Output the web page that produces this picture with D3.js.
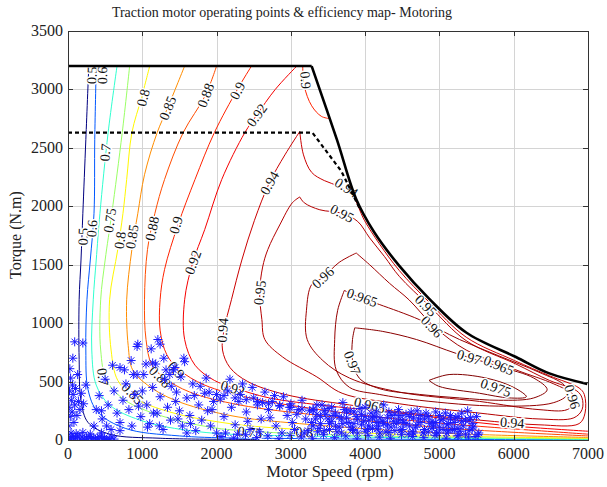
<!DOCTYPE html>
<html><head><meta charset="utf-8">
<script src="https://cdn.jsdelivr.net/npm/d3@7"></script>
<style>body{margin:0;background:#fff}svg{display:block}</style>
</head><body>
<svg id="chart" width="607" height="487"></svg>
<script>
// ---------- data ----------
const speedTicks = [0,1000,2000,3000,4000,5000,6000,7000];
const torqueTicks = [0,500,1000,1500,2000,2500,3000,3500];

// max torque envelope (solid) and continuous envelope (dashed)
const envelopeFlat = [[0,3200],[3280,3200]];
const envelopeMax = [[3280,3200],[3620,2570],[3880,2060],[4120,1780],[4460,1490],[4860,1210],[5360,920],[6030,710],[6480,570],[6990,480]];
const envelopeCont = [[0,2630],[3290,2630],[3680,2300],[3920,1990]];

// efficiency contour lines [speed rpm, torque N.m]
const c050 = [[280,3200],[240,2570],[200,1940],[175,1540],[150,1200],[150,690],[175,340],[270,150],[560,50],[1240,15],[2580,5]];
const c060 = [[380,3200],[360,2570],[350,1940],[300,1540],[255,1200],[240,770],[270,430],[400,240],[770,100],[1500,35],[3100,12],[7000,3]];
const c070 = [[660,3200],[540,2630],[430,1940],[380,1540],[340,1200],[320,770],[380,470],[560,300],[970,170],[1770,70],[3500,30],[7000,6]];
const c075 = [[830,3200],[730,2630],[590,1940],[500,1540],[440,1200],[440,770],[520,510],[770,340],[1240,210],[1910,110],[2580,70],[4500,30],[7000,10]];
const c080 = [[1100,3200],[990,2930],[860,2630],[790,2230],[740,1940],[670,1630],[560,1200],[580,770],[670,510],[900,360],[1370,240],[2180,140],[3120,90],[4800,40],[7000,15]];
const c085 = [[1570,3200],[1340,2840],[1200,2630],[1030,2270],[940,1940],[860,1630],[790,1200],[810,810],[870,600],[1070,470],[1440,340],[2180,210],[3120,140],[5000,60],[7000,22]];
const c088 = [[2000,3200],[1850,2950],[1550,2630],[1300,2230],[1170,1940],[1070,1630],[1030,1200],[1050,860],[1130,640],[1300,530],[1640,410],[2310,300],[3390,210],[5130,100],[7000,35]];
const c090 = [[2470,3200],[2280,3000],[1970,2630],[1710,2230],[1480,1840],[1300,1460],[1240,1200],[1240,940],[1330,730],[1500,600],[1840,470],[2450,360],[3390,260],[4730,160],[7000,50]];
const c090b = [[3160,3200],[3180,3030],[3280,2860],[3410,2770],[3520,2750]];
const c092 = [[3080,3200],[2790,3000],[2540,2780],[2380,2630],[2070,2230],[1840,1800],[1680,1520],[1570,1200],[1570,860],[1710,640],[1970,510],[2220,450],[2710,360],[3390,300],[4460,230],[5800,130],[7000,75]];
const c094 = [[3120,2640],[2920,2440],[2710,2200],[2510,1880],[2340,1540],[2200,1200],[2100,940],[2080,770],[2180,620],[2420,500],[2920,390],[3790,300],[4730,220],[5540,170],[6340,130],[6880,140],[6960,230],[6950,390],[6880,445],[6480,550],[6010,680],[5360,880],[4860,1180],[4460,1450],[4190,1680],[3990,1880],[3820,2100],[3650,2170],[3450,2220],[3280,2290],[3170,2440],[3120,2640]];
const c095 = [[3120,2080],[3020,2030],[2850,1840],[2690,1630],[2620,1480],[2580,1260],[2610,1030],[2650,860],[2890,710],[3350,540],[3690,400],[4460,310],[5540,230],[6340,180],[6810,190],[6920,260],[6920,360],[6850,420],[6480,510],[6030,650],[5360,850],[4860,1150],[4460,1400],[4260,1570],[4060,1730],[3900,1870],[3690,1940],[3390,1970],[3180,2030],[3120,2080]];
const c096 = [[3880,1600],[3650,1520],[3430,1390],[3280,1330],[3210,1110],[3220,860],[3430,680],[3790,530],[4460,410],[5540,330],[6340,260],[6720,260],[6830,330],[6800,390],[6540,480],[6030,600],[5360,770],[4930,970],[4590,1200],[4330,1340],[4060,1500],[3880,1600]];
const c0965 = [[3720,1280],[3920,1220],[4190,1160],[4730,1030],[5270,860],[5800,720],[6340,580],[6680,470],[6720,390],[6540,320],[5800,290],[4730,340],[4190,390],[3790,450],[3610,600],[3590,860],[3630,1110],[3720,1280]];
const c097 = [[3860,960],[4230,930],[4690,860],[5230,740],[5800,630],[6270,530],[6450,430],[6270,360],[5800,340],[5270,360],[4730,390],[4190,440],[3920,530],[3830,680],[3830,860],[3860,960]];
const c0975 = [[4860,510],[5130,560],[5630,530],[6000,450],[6170,370],[5940,360],[5540,400],[4990,460],[4860,510]];

const contourLevels = [0.5,0.6,0.7,0.75,0.8,0.85,0.88,0.9,0.9,0.92,0.94,0.95,0.96,0.965,0.97,0.975];
const contourLines  = [c050,c060,c070,c075,c080,c085,c088,c090,c090b,c092,c094,c095,c096,c0965,c097,c0975];

// inline contour labels: [level, speed, torque]
const labelLevels = [0.5,0.6,0.7,0.8,0.85,0.88,0.9,0.92,0.9,0.94,0.94,0.95,0.95,0.96,0.965,0.97,0.975,0.97,0.96,0.95,0.965,
  0.5,0.6,0.75,0.8,0.85,0.88,0.9,0.92,0.94,0.7,0.85,0.88,0.9,0.92,0.75,0.8,0.94,0.965,0.96];
const labelSpeeds = [320,460,500,1010,1340,1850,2280,2540,3200,2710,3750,3690,2580,3430,3960,3830,5760,5400,4900,4820,5800,
  200,320,560,700,860,1130,1450,1680,2080,470,870,1240,1460,2220,2450,3180,5980,4060,6790];
const labelTorques = [3120,3120,2460,2930,2840,2950,2990,2780,3080,2200,2160,1940,1260,1390,1220,660,450,710,970,1150,640,
  1740,1810,1880,1710,1740,1810,1840,1520,940,540,400,540,600,445,68,68,150,300,370];

// operating points [speed, torque]
const opSpeed = [0,25,50,75,100,130,160,190,220,250,280,310,340,370,400,430,460,490,520,555,590,620,40,110,200,300,450,
 10,30,15,45,20,60,35,80,55,90,70,120,100,140,160,25,90,130,180,210,240,65,
 350,380,420,460,500,540,580,620,660,700,740,780,820,860,900,940,980,1020,1060,1100,1140,1180,1200,1240,1280,1300,1340,1380,1420,1460,1500,1540,1560,1600,1640,1680,1720,1760,1800,1840,1880,1920,1960,2000,700,760,880,1000,1120,1240,1150,950,1070,1390,1450,1290,850,600,450,520,1320,1480,1600,1700,1860,1520,1780,1940,1650,1050,1230,
 200,930,1210,1140,700,930,1570,1440,1370,
 2050,2100,2150,2200,2250,2300,2350,2400,2450,2500,2550,2600,2650,2700,2750,2800,2850,2900,2950,3000,3050,3100,3150,3200,2120,2280,2420,2580,2720,2880,3020,3180,2180,2480,2320,2620,2780,2980,3080,
 3250,3300,3350,3400,3450,3500,3550,3600,3650,3700,3750,3800,3850,3900,3950,4000,4050,4100,4150,4200,4250,4300,4350,4400,4450,4500,4550,4600,4650,4700,4750,4800,4850,4900,4950,5000,5050,5100,5150,5200,5250,5300,5350,5400,5450,5500,5530,5480,5420,5380,5320,5260,5220,5180,5120,5080,5020,4980,4920,4870,4820,4780,4720,4680,4620,4580,4520,4470,4420,4380,4320,4280,4230,4180,4130,4080,4030,3980,3930,3880,3830,3780,3720,3680,3620,3570,3520,3470,3420,3380,3330,3280,3230,
 5450,5400,5350,5300,5250,5200,5150,5100,5050,5000,4950,4900,4850,4800,4750,4700,4650,4600,4550,4500,4450,4400,4350,4300,4250,4200,4150,4100,4050,4000,3950,3900,3850,3800,3750,3700,3650,3600,3550,3500,3450,3400,3350,3300,
 2060,2230,2390,2540,2690,2840,2990,3140,3290,3440,3590,3740,3890,4040,4190,4340,4490,4640,4790,4940,5090,5240,5390,5520,3360,3520,3680,3840,4000,4160,4320,4480,4640,4800,4960,5120,5280,5440,
 1900,2000,2100,2250,2400,2550,2700,2850,3000,3150,3300];
const opTorque = [5,15,30,8,20,35,10,25,5,18,30,12,22,6,16,28,9,20,4,14,26,8,60,55,65,50,60,
 120,200,280,340,420,470,530,150,240,300,390,210,440,330,260,610,840,560,400,310,470,700,
 120,260,380,180,520,300,90,420,230,150,340,480,260,120,390,820,200,560,300,140,450,650,230,370,90,520,280,170,600,410,250,120,700,360,210,480,80,300,170,400,250,120,330,60,80,600,560,420,780,820,230,290,110,460,330,700,680,640,250,120,600,180,60,380,530,540,460,260,140,650,120,
 830,800,860,660,620,560,670,620,560,
 350,200,420,280,130,330,480,240,90,360,300,180,410,260,330,120,290,370,210,310,90,260,340,180,60,50,160,70,190,60,150,60,520,450,390,320,380,280,220,
 250,120,300,200,80,270,160,230,110,320,190,250,140,60,220,280,170,100,240,190,300,130,210,80,260,170,220,120,190,250,150,90,200,160,240,110,180,60,210,150,100,230,170,80,140,200,60,30,190,250,120,40,190,90,140,230,170,60,120,140,230,60,180,110,240,50,150,210,140,160,240,70,160,120,200,230,90,160,270,200,90,150,260,180,70,210,140,220,300,100,180,150,80,
 110,170,50,160,200,90,180,130,90,210,150,100,70,180,210,130,60,200,140,90,170,220,110,190,140,60,150,190,120,200,130,180,240,110,240,140,200,120,280,180,250,140,220,260,
 30,15,45,20,35,10,40,25,15,45,20,35,10,40,25,15,45,30,20,40,15,35,25,45,70,90,60,80,75,95,65,85,70,90,60,80,75,95,
 410,390,380,360,345,330,310,295,280,265,255];

// ---------- drawing ----------
const svg = d3.select('#chart');
const m = {l:68, r:588, t:31, b:440};
const x = d3.scaleLinear().domain([0,7000]).range([m.l, m.r]);
const y = d3.scaleLinear().domain([0,3500]).range([m.b, m.t]);
const serif = '"Liberation Serif","Times New Roman",serif';

function jet(v){
  const t = (v-0.5)/0.475;
  const c = a => Math.max(0, Math.min(1, a));
  const r = c(1.5-Math.abs(4*t-3)), g = c(1.5-Math.abs(4*t-2)), b = c(1.5-Math.abs(4*t-1));
  return d3.rgb(r*255, g*255, b*255).toString();
}

svg.append('defs').append('clipPath').attr('id','plotclip')
  .append('rect').attr('x',m.l).attr('y',m.t).attr('width',m.r-m.l).attr('height',m.b-m.t);

// grid
const grid = svg.append('g').attr('stroke','#d4d4d4').attr('stroke-width',1);
speedTicks.slice(1,-1).forEach(s => grid.append('line').attr('x1',Math.round(x(s))+0.5).attr('x2',Math.round(x(s))+0.5).attr('y1',m.t).attr('y2',m.b));
torqueTicks.slice(1,-1).forEach(t => grid.append('line').attr('y1',Math.round(y(t))+0.5).attr('y2',Math.round(y(t))+0.5).attr('x1',m.l).attr('x2',m.r));

const plot = svg.append('g').attr('clip-path','url(#plotclip)');
const line = d3.line().x(d=>x(d[0])).y(d=>y(d[1])).curve(d3.curveCatmullRom.alpha(0.5));

contourLines.forEach((pts,i) => {
  plot.append('path').attr('d', line(pts)).attr('fill','none')
    .attr('stroke', jet(contourLevels[i])).attr('stroke-width',1);
});

// labels
function angleFor(level, px, py){
  let best = Infinity, ang = 0;
  contourLines.forEach((pts,i) => {
    if (contourLevels[i] !== level) return;
    for (let k=0;k<pts.length-1;k++){
      const ax=x(pts[k][0]), ay=y(pts[k][1]), bx=x(pts[k+1][0]), by=y(pts[k+1][1]);
      const dx=bx-ax, dy=by-ay, L=dx*dx+dy*dy||1;
      let u=((px-ax)*dx+(py-ay)*dy)/L; u=Math.max(0,Math.min(1,u));
      const qx=ax+u*dx-px, qy=ay+u*dy-py, d2=qx*qx+qy*qy;
      if (d2<best){best=d2; ang=Math.atan2(dy,dx)*180/Math.PI;}
    }
  });
  if (ang>90) ang-=180; if (ang<-90) ang+=180;
  return ang;
}
const lab = plot.append('g').attr('font-family',serif).attr('font-size',14).attr('fill','#111');
labelLevels.forEach((lv,i) => {
  const px = x(labelSpeeds[i]), py = y(labelTorques[i]);
  const a = angleFor(lv, px, py);
  lab.append('text').attr('transform',`translate(${px},${py}) rotate(${a})`)
    .attr('text-anchor','middle').attr('dy','0.35em')
    .attr('stroke','#fff').attr('stroke-width',3).attr('paint-order','stroke')
    .text(String(lv));
});

// envelopes
plot.append('path').attr('d', d3.line().x(d=>x(d[0])).y(d=>y(d[1]))(envelopeFlat))
  .attr('fill','none').attr('stroke','#000').attr('stroke-width',2.6);
plot.append('path').attr('d', d3.line().x(d=>x(d[0])).y(d=>y(d[1])).curve(d3.curveCatmullRom.alpha(0.5))(envelopeMax))
  .attr('fill','none').attr('stroke','#000').attr('stroke-width',2.6).attr('stroke-linejoin','round');
plot.append('path').attr('d', d3.line().x(d=>x(d[0])).y(d=>y(d[1]))(envelopeCont))
  .attr('fill','none').attr('stroke','#000').attr('stroke-width',2.2).attr('stroke-dasharray','4,3');

// operating points
const star = 'M-4.5,0H4.5M0,-4.5V4.5M-3.2,-3.2L3.2,3.2M-3.2,3.2L3.2,-3.2';
const pts = plot.append('g').attr('stroke','#1a1aff').attr('stroke-width',1).attr('fill','none');
opSpeed.forEach((s,i) => {
  pts.append('path').attr('d',star).attr('transform',`translate(${x(s)},${y(opTorque[i])})`);
});

// axes box and ticks (inward, all sides)
const ax = svg.append('g').attr('stroke','#333').attr('stroke-width',1);
ax.append('rect').attr('x',m.l+0.5).attr('y',m.t+0.5).attr('width',m.r-m.l).attr('height',m.b-m.t).attr('fill','none');
speedTicks.forEach(s => {
  const xx = Math.round(x(s))+0.5;
  ax.append('line').attr('x1',xx).attr('x2',xx).attr('y1',m.b).attr('y2',m.b-5);
  ax.append('line').attr('x1',xx).attr('x2',xx).attr('y1',m.t).attr('y2',m.t+5);
});
torqueTicks.forEach(t => {
  const yy = Math.round(y(t))+0.5;
  ax.append('line').attr('y1',yy).attr('y2',yy).attr('x1',m.l).attr('x2',m.l+5);
  ax.append('line').attr('y1',yy).attr('y2',yy).attr('x1',m.r).attr('x2',m.r-5);
});

const txt = svg.append('g').attr('font-family',serif).attr('fill','#222');
speedTicks.forEach(s => txt.append('text').attr('x',x(s)).attr('y',459).attr('text-anchor','middle').attr('font-size',16).text(s));
torqueTicks.forEach(t => txt.append('text').attr('x',63).attr('y',y(t)+5).attr('text-anchor','end').attr('font-size',16).text(t));
txt.append('text').attr('x',282).attr('y',17).attr('text-anchor','middle').attr('font-size',14).text('Traction motor operating points & efficiency map- Motoring');
txt.append('text').attr('x',330).attr('y',477).attr('text-anchor','middle').attr('font-size',16.5).text('Motor Speed (rpm)');
txt.append('text').attr('transform','translate(21,235) rotate(-90)').attr('text-anchor','middle').attr('font-size',16).text('Torque (N.m)');
</script>
</body></html>
